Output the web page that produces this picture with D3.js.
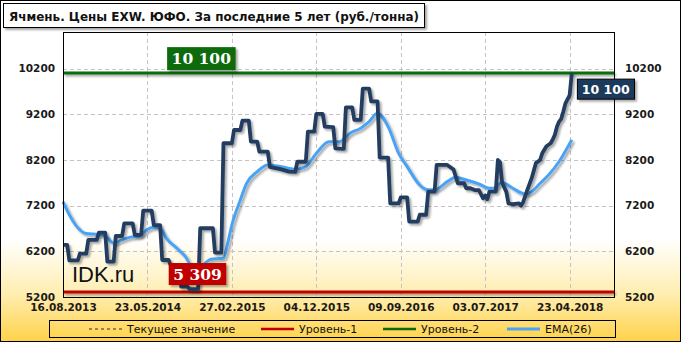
<!DOCTYPE html>
<html>
<head>
<meta charset="utf-8">
<script src="https://cdn.jsdelivr.net/npm/d3@7"></script>
<style>
  body { margin: 0; background: #fff; }
  svg { display: block; font-family: "DejaVu Sans", Verdana, sans-serif; }
</style>
</head>
<body>
<div class="chart"></div>
<script>
// ---- data ----
const title = 'Ячмень. Цены EXW. ЮФО. За последние 5 лет (руб./тонна)';
const tickWeeks = [0, 40, 80, 120, 160, 200, 240];
const tickDates = ['16.08.2013', '23.05.2014', '27.02.2015', '04.12.2015', '09.09.2016', '03.07.2017', '23.04.2018'];
const yTicks = [5200, 6200, 7200, 8200, 9200, 10200];

// weekly price, [week index, rub/t] at the break points of the steps
const price = [
  [0,6340],[2,6340],[3,6000],[7,6000],[8,6150],[11,6150],[12,6450],[16,6450],[17,6610],[20,6610],
  [21,5975],[24,5975],[25,6535],[28,6535],[29,6810],[33,6810],[34,6560],[37,6560],[38,7090],[42,7090],
  [43,6775],[46,6775],[47,6010],[50,6010],[52,5790],[55,5790],[56,5425],[59,5425],[60,5370],[64,5370],
  [65,6705],[71,6705],[72,6170],[75,6170],[76,8565],[80,8565],[81,8855],[84,8855],[85,9060],[88,9060],
  [89,8600],[92,8600],[93,8380],[97,8380],[98,8050],[103,8000],[107,7945],[110,7940],[111,8160],[115,8160],
  [116,8820],[119,8820],[120,9210],[123,9210],[124,8930],[128,8920],[129,8455],[133,8440],[134,9350],[137,9350],
  [138,9075],[141,9075],[142,9760],[145,9760],[146,9480],[149,9480],[150,8250],[154,8250],[155,7250],[159,7250],
  [160,7380],[163,7380],[164,6850],[168,6850],[169,7000],[172,7000],[173,7505],[176,7505],[177,8090],[182,8090],
  [185,7990],[187,7690],[190,7690],[191,7580],[193,7580],[195,7540],[197,7540],[199,7360],[200,7420],[201,7340],
  [202,7505],[205,7505],[206,8200],[207,8150],[208,7700],[210,7500],[211,7250],[213,7230],[216,7250],[217,7200],
  [218,7280],[220,7550],[222,7800],[224,8130],[226,8200],[227,8345],[229,8500],[231,8565],[232,8650],[233,8750],
  [234,8930],[235,9040],[236,9100],[237,9260],[238,9440],[240,9620],[241,10100]
];

// EMA(26) as drawn
const ema = [
  [0,7290],[3,7000],[6,6775],[11,6590],[17,6570],[20,6540],[24,6380],[28,6450],[32,6510],[36,6530],
  [40,6680],[43,6725],[46,6700],[49,6485],[54,6265],[58,6085],[61,5870],[64,5840],[67,5930],[70,6025],
  [76,6050],[78,6375],[80,6780],[84,7325],[87,7690],[92,7945],[97,8090],[103,8055],[110,7995],[115,8055],
  [120,8345],[126,8600],[131,8600],[136,8785],[141,8895],[145,9040],[149,9220],[154,8930],[159,8345],[163,8055],
  [169,7650],[173,7545],[177,7560],[182,7725],[186,7820],[191,7760],[197,7675],[202,7580],[204,7580],[208,7705],
  [213,7580],[219,7455],[222,7505],[226,7690],[230,7870],[235,8165],[241,8640]
];

const level1 = 5309;
const level2 = 10100;
const current = 10100;

const legendItems = [
  {label: 'Текущее значение', color: '#333', dash: '3,3', w: 1.2},
  {label: 'Уровень-1', color: '#c00000', dash: null, w: 2.5},
  {label: 'Уровень-2', color: '#0b6b0b', dash: null, w: 2.5},
  {label: 'EMA(26)', color: '#4aa3f5', dash: null, w: 3}
];

// ---- chart ----
const w = 681, h = 342;
const m = {left: 63, right: 67, top: 32, bottom: 45};

const svg = d3.select('.chart').append('svg')
  .attr('width', w).attr('height', h);

const defs = svg.append('defs');
const grad = defs.append('linearGradient').attr('id', 'bg')
  .attr('x1', 0).attr('y1', 0).attr('x2', 0).attr('y2', 1);
grad.append('stop').attr('offset', 0.70).attr('stop-color', '#ffffff');
grad.append('stop').attr('offset', 0.86).attr('stop-color', '#ffeeb0');
grad.append('stop').attr('offset', 1).attr('stop-color', '#ffd24a');

// shadow filter in user space so flat lines keep it
defs.append('filter').attr('id', 'sh')
  .attr('filterUnits', 'userSpaceOnUse')
  .attr('x', 0).attr('y', 0).attr('width', w).attr('height', h)
  .append('feDropShadow')
  .attr('dx', 2).attr('dy', 2).attr('stdDeviation', 1.2)
  .attr('flood-color', '#000').attr('flood-opacity', 0.35);

svg.append('rect')
  .attr('x', 0.5).attr('y', 0.5).attr('width', w - 1).attr('height', h - 1)
  .attr('fill', 'url(#bg)').attr('stroke', '#000');

const x = d3.scaleLinear().domain([0, 261]).range([m.left, w - m.right]);
const y = d3.scaleLinear().domain([5200, 11000]).range([h - m.bottom, m.top]);

// grid
const grid = svg.append('g').attr('stroke', '#c4c4c4').attr('stroke-dasharray', '4,3').attr('stroke-width', 1);
grid.selectAll('.hg').data(yTicks.slice(1)).join('line')
  .attr('x1', m.left).attr('x2', w - m.right)
  .attr('y1', d => Math.round(y(d)) + 0.5).attr('y2', d => Math.round(y(d)) + 0.5);
grid.selectAll('.vg').data(tickWeeks.slice(1)).join('line')
  .attr('y1', m.top).attr('y2', h - m.bottom)
  .attr('x1', d => Math.round(x(d)) + 0.5).attr('x2', d => Math.round(x(d)) + 0.5);

// levels
svg.append('line')
  .attr('x1', m.left).attr('x2', w - m.right)
  .attr('y1', y(level2)).attr('y2', y(level2))
  .attr('stroke', '#0b6b0b').attr('stroke-width', 3).attr('filter', 'url(#sh)');
svg.append('line')
  .attr('x1', m.left).attr('x2', w - m.right)
  .attr('y1', y(level1)).attr('y2', y(level1))
  .attr('stroke', '#c00000').attr('stroke-width', 3).attr('filter', 'url(#sh)');

// lines
const line = d3.line().x(d => x(d[0])).y(d => y(d[1]));
svg.append('path').datum(ema)
  .attr('d', line.curve(d3.curveMonotoneX))
  .attr('fill', 'none').attr('stroke', '#4aa3f5').attr('stroke-width', 3)
  .attr('stroke-linejoin', 'round').attr('filter', 'url(#sh)');
svg.append('path').datum(price)
  .attr('d', line.curve(d3.curveLinear))
  .attr('fill', 'none').attr('stroke', '#233d5e').attr('stroke-width', 3.8)
  .attr('stroke-linejoin', 'round').attr('filter', 'url(#sh)');

// plot frame
svg.append('rect')
  .attr('x', m.left + 0.5).attr('y', m.top + 0.5)
  .attr('width', w - m.left - m.right).attr('height', h - m.top - m.bottom)
  .attr('fill', 'none').attr('stroke', '#000').attr('stroke-width', 1);

// axes
const fmtY = d3.format('d');
const ax = g => g.call(s => s.select('.domain').remove())
  .selectAll('text').attr('font-family', '"DejaVu Sans", Verdana, sans-serif')
  .attr('font-weight', 'bold').attr('font-size', 10.5).attr('fill', '#1a1a1a');

svg.append('g').attr('transform', `translate(${m.left - 8},0)`)
  .call(d3.axisLeft(y).tickValues(yTicks).tickFormat(fmtY).tickSize(0).tickPadding(0))
  .call(ax);
svg.append('g').attr('transform', `translate(${w - m.right + 11},0)`)
  .call(d3.axisRight(y).tickValues(yTicks).tickFormat(fmtY).tickSize(0).tickPadding(0))
  .call(ax);
svg.append('g').attr('transform', `translate(0,${h - m.bottom + 7})`)
  .call(d3.axisBottom(x).tickValues(tickWeeks).tickFormat((d, i) => tickDates[i]).tickSize(0).tickPadding(0))
  .call(ax);

// watermark
svg.append('text').attr('x', 72).attr('y', 282)
  .attr('font-family', '"Liberation Sans", Arial, sans-serif').attr('font-size', 22)
  .attr('fill', '#111').text('IDK.ru');

// value tags
const fmtTag = v => d3.format(',d')(v).replace(',', ' ');
function tag(cx, cy, text, fill, size, hh, font, stroke) {
  const g = svg.append('g');
  const t = g.append('text').attr('x', cx).attr('y', cy)
    .attr('text-anchor', 'middle').attr('dominant-baseline', 'central')
    .attr('font-family', font)
    .attr('font-weight', 'bold').attr('font-size', size).attr('fill', '#fff').text(text);
  const bb = t.node().getBBox();
  g.insert('rect', 'text')
    .attr('x', bb.x - 4.5).attr('y', cy - hh / 2).attr('width', bb.width + 9).attr('height', hh)
    .attr('fill', fill).attr('stroke', stroke || 'none').attr('filter', 'url(#sh)');
}
const serif = '"DejaVu Serif", "Liberation Serif", serif';
tag(x(65.5), y(level2) - 14.5, fmtTag(level2), '#0b6b0b', 15.5, 23, serif);
tag(x(63.7), y(level1) - 18, fmtTag(level1), '#c00000', 15.5, 22, serif);
tag(x(241) + 34, y(current) + 16, fmtTag(current), '#1e3a5c', 12.5, 20,
  '"DejaVu Sans", Verdana, sans-serif', '#000');

// title box
{
  const g = svg.append('g');
  g.append('rect').attr('x', 3.5).attr('y', 3.5).attr('width', 421).attr('height', 24)
    .attr('fill', '#fff').attr('stroke', '#000').attr('filter', 'url(#sh)');
  g.append('text').attr('x', 9).attr('y', 20.5)
    .attr('font-weight', 'bold').attr('font-size', 13).attr('fill', '#111')
    .attr('textLength', 410).attr('lengthAdjust', 'spacingAndGlyphs').text(title);
}

// legend
{
  const g = svg.append('g');
  g.append('rect').attr('x', 49.5).attr('y', 320.5).attr('width', 566).attr('height', 17)
    .attr('fill', 'none').attr('stroke', '#000');
  const xs = [89, 261, 383, 507];
  legendItems.forEach((d, i) => {
    g.append('line').attr('x1', xs[i]).attr('x2', xs[i] + 33).attr('y1', 329).attr('y2', 329)
      .attr('stroke', d.color).attr('stroke-width', d.w).attr('stroke-dasharray', d.dash);
    g.append('text').attr('x', xs[i] + 38).attr('y', 333)
      .attr('font-size', 11).attr('fill', '#111').text(d.label);
  });
}
</script>
</body>
</html>
